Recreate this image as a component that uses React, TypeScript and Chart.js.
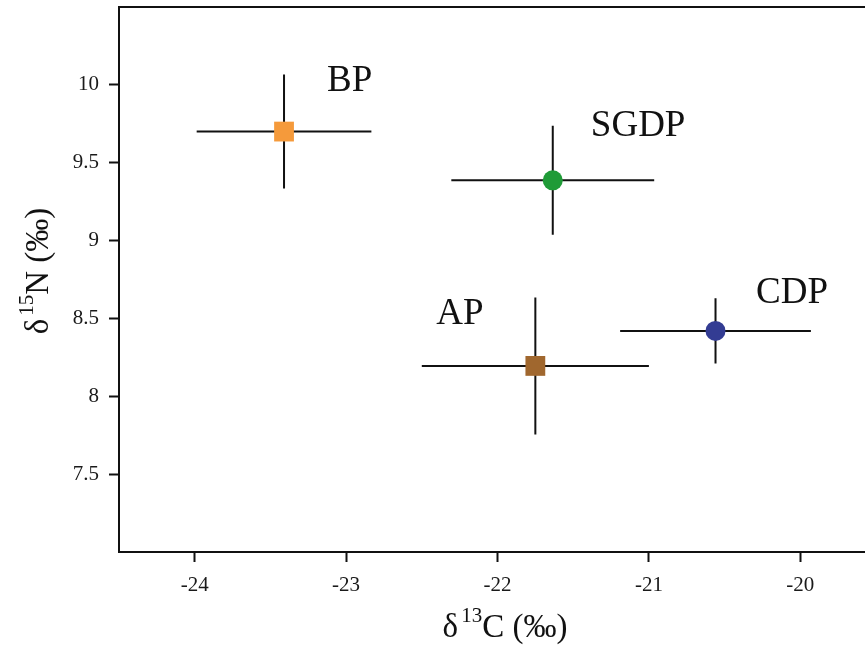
import React, { useEffect, useRef } from 'react';
import { Chart, registerables } from 'chart.js';

Chart.register(...registerables);

// ---- data ----
const groups = ['BP', 'SGDP', 'AP', 'CDP'];
const d13C = [-23.41, -21.635, -21.75, -20.56];
const d15N = [9.70, 9.387, 8.195, 8.42];
const errC = [0.577, 0.67, 0.75, 0.63];
const errN = [0.366, 0.35, 0.44, 0.21];
const colors = ['#F59A3B', '#1F9B37', '#A0672E', '#333C93'];
const shapes = ['rect', 'circle', 'rect', 'circle'];
// label anchors (data units, centre/baseline)
const labelX = [-22.977, -21.071, -22.248, -20.055];
const labelY = [9.963, 9.671, 8.464, 8.599];
const xTicks = [-24, -23, -22, -21, -20];
const yTicks = [7.5, 8, 8.5, 9, 9.5, 10];

const SERIF = '"Liberation Serif", "Times New Roman", serif';

const boxPlugin = {
  id: 'boxPlugin',
  afterDraw(chart: any) {
    const { ctx, chartArea } = chart;
    ctx.save();
    ctx.strokeStyle = '#111';
    ctx.lineWidth = 2;
    ctx.strokeRect(chartArea.left, chartArea.top, chartArea.right - chartArea.left, chartArea.bottom - chartArea.top);
    ctx.restore();
  },
};

const errorBarsPlugin = {
  id: 'errorBars',
  beforeDatasetsDraw(chart: any) {
    const { ctx } = chart;
    const x = chart.scales.x;
    const y = chart.scales.y;
    ctx.save();
    ctx.strokeStyle = '#111';
    ctx.lineWidth = 2;
    for (let i = 0; i < groups.length; i++) {
      const px = x.getPixelForValue(d13C[i]);
      const py = y.getPixelForValue(d15N[i]);
      ctx.beginPath();
      ctx.moveTo(x.getPixelForValue(d13C[i] - errC[i]), py);
      ctx.lineTo(x.getPixelForValue(d13C[i] + errC[i]), py);
      ctx.moveTo(px, y.getPixelForValue(d15N[i] + errN[i]));
      ctx.lineTo(px, y.getPixelForValue(d15N[i] - errN[i]));
      ctx.stroke();
    }
    ctx.restore();
  },
};

const labelsPlugin = {
  id: 'groupLabels',
  afterDatasetsDraw(chart: any) {
    const { ctx } = chart;
    const x = chart.scales.x;
    const y = chart.scales.y;
    ctx.save();
    ctx.fillStyle = '#111';
    ctx.font = `37px ${SERIF}`;
    ctx.textAlign = 'center';
    ctx.textBaseline = 'alphabetic';
    for (let i = 0; i < groups.length; i++) {
      ctx.fillText(groups[i], x.getPixelForValue(labelX[i]), y.getPixelForValue(labelY[i]));
    }
    ctx.restore();
  },
};

function drawSupTitle(ctx: CanvasRenderingContext2D, pre: string, sup: string, post: string) {
  const main = `33px ${SERIF}`;
  const small = `21px ${SERIF}`;
  ctx.font = main;
  const w1 = ctx.measureText(pre).width;
  const w3 = ctx.measureText(post).width;
  ctx.font = small;
  const w2 = ctx.measureText(sup).width;
  const gap = 3;
  const total = w1 + gap + w2 + w3;
  let cx = -total / 2;
  ctx.textAlign = 'left';
  ctx.textBaseline = 'alphabetic';
  ctx.font = main;
  ctx.fillText(pre, cx, 0);
  cx += w1 + gap;
  ctx.font = small;
  ctx.fillText(sup, cx, -15);
  cx += w2;
  ctx.font = main;
  ctx.fillText(post, cx, 0);
}

const titlesPlugin = {
  id: 'axisTitles',
  afterDraw(chart: any) {
    const { ctx } = chart;
    ctx.save();
    ctx.fillStyle = '#111';
    ctx.translate(505, 637);
    drawSupTitle(ctx, 'δ', '13', 'C (‰)');
    ctx.restore();
    ctx.save();
    ctx.fillStyle = '#111';
    ctx.translate(48, 271);
    ctx.rotate(-Math.PI / 2);
    drawSupTitle(ctx, 'δ', '15', 'N (‰)');
    ctx.restore();
  },
};

export default function App() {
  const ref = useRef<HTMLCanvasElement | null>(null);

  useEffect(() => {
    document.body.style.margin = '0';
    const canvas = ref.current;
    if (!canvas) return;
    const datasets = groups.map((g, i) => ({
      label: g,
      data: [{ x: d13C[i], y: d15N[i] }],
      pointStyle: shapes[i] as any,
      pointRadius: shapes[i] === 'rect' ? 14 : 10,
      pointBackgroundColor: colors[i],
      pointBorderColor: colors[i],
      pointBorderWidth: 0,
      showLine: false,
    }));
    const tickFont = { family: SERIF, size: 21 };
    const chart = new Chart(canvas, {
      type: 'scatter',
      data: { datasets },
      options: {
        responsive: false,
        animation: false,
        devicePixelRatio: 1,
        layout: { autoPadding: false, padding: { left: 0, top: 7, right: 4, bottom: 0 } },
        plugins: {
          legend: { display: false },
          tooltip: { enabled: false },
          title: { display: false },
        },
        scales: {
          x: {
            type: 'linear',
            min: -24.5,
            max: -19.5,
            afterBuildTicks: (s: any) => { s.ticks = xTicks.map((v) => ({ value: v })); },
            afterFit: (s: any) => { s.height = 95; s.paddingLeft = 0; s.paddingRight = 0; },
            ticks: { font: tickFont, color: '#1a1a1a', padding: 11, callback: (v: any) => String(v), maxRotation: 0 },
            grid: { drawOnChartArea: false, drawTicks: true, tickLength: 10, tickColor: '#111', tickWidth: 2 },
            border: { display: false },
            title: { display: false },
          },
          y: {
            type: 'linear',
            min: 7,
            max: 10.5,
            afterBuildTicks: (s: any) => { s.ticks = yTicks.map((v) => ({ value: v })); },
            afterFit: (s: any) => { s.width = 119; s.paddingTop = 0; s.paddingBottom = 0; },
            ticks: { font: tickFont, color: '#1a1a1a', padding: 10, callback: (v: any) => String(v) },
            grid: { drawOnChartArea: false, drawTicks: true, tickLength: 10, tickColor: '#111', tickWidth: 2 },
            border: { display: false },
            title: { display: false },
          },
        },
      },
      plugins: [errorBarsPlugin, labelsPlugin, boxPlugin, titlesPlugin],
    });
    return () => chart.destroy();
  }, []);

  return (
    <div style={{ position: 'absolute', left: 0, top: 0, width: 865, height: 647, overflow: 'hidden', background: '#fff' }}>
      <canvas ref={ref} width={880} height={647} style={{ display: 'block', width: 880, height: 647 }} />
    </div>
  );
}
